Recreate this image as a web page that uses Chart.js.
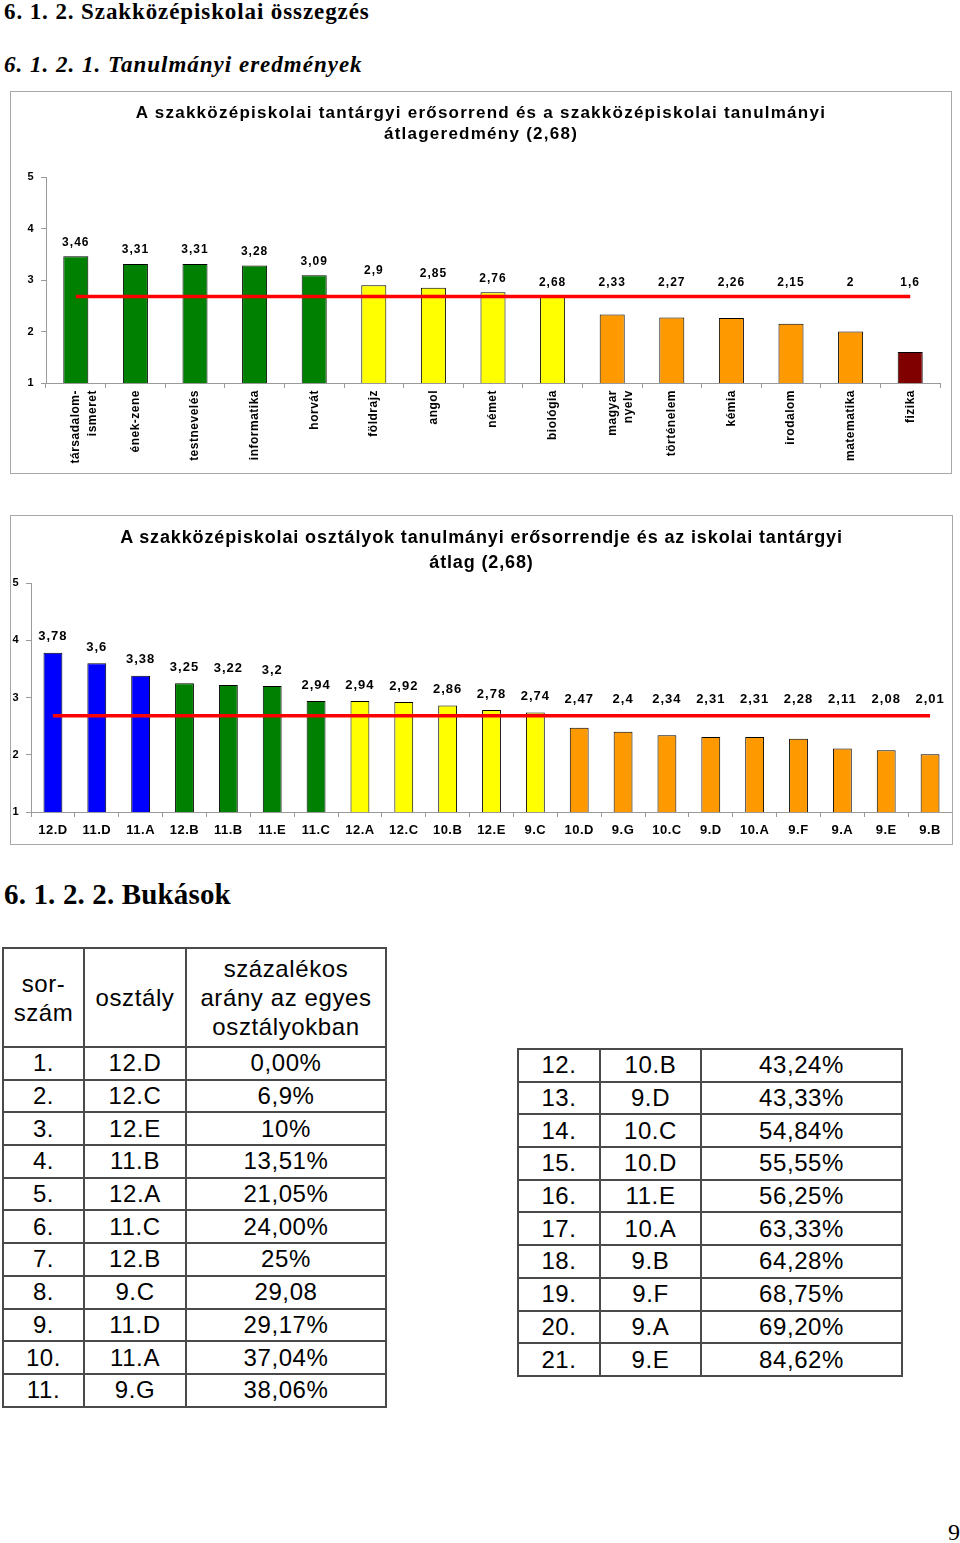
<!DOCTYPE html>
<html>
<head>
<meta charset="utf-8">
<script src="https://cdn.jsdelivr.net/npm/chart.js@4.4.1/dist/chart.umd.min.js"></script>
<style>
  body { margin: 0; width: 960px; height: 1543px; position: relative; background: #fff; overflow: hidden; }
  .head { position: absolute; left: 4px; margin: 0; font-family: "Liberation Serif", "Times New Roman", serif; font-weight: bold; line-height: 1; white-space: nowrap; color: #000; }
  #h1 { top: 0px; font-size: 23px; letter-spacing: 0.9px; }
  #h2 { top: 53px; font-size: 23px; font-style: italic; letter-spacing: 1px; }
  #h3 { top: 880px; font-size: 29px; letter-spacing: 0.15px; }
  .box { position: absolute; border: 1px solid #a8a8a8; }
  #box1 { left: 10px; top: 91px; width: 940px; height: 381px; }
  #box2 { left: 10px; top: 515px; width: 941px; height: 328px; }
  canvas { position: absolute; }
  #c1 { left: 11px; top: 92px; }
  #c2 { left: 11px; top: 516px; }
  .ctitle { position: absolute; left: 11px; text-align: center; font-family: "Liberation Sans", Arial, sans-serif; font-weight: bold; color: #000; white-space: nowrap; }
  #ct1 { top: 101.5px; width: 940px; font-size: 17px; line-height: 21px; letter-spacing: 1.25px; }
  #ct2 { top: 524.5px; width: 941px; font-size: 18px; line-height: 25px; letter-spacing: 0.87px; }
  table { position: absolute; border-collapse: collapse; table-layout: fixed; font-family: "Liberation Sans", Arial, sans-serif; font-size: 24px; letter-spacing: 0.6px; color: #000; }
  td { border: 2px solid #4a4a4a; text-align: center; padding: 0; line-height: 29px; }
  #t1 { left: 2px; top: 947px; width: 383px; }
  #t2 { left: 517px; top: 1048px; width: 384px; }
  #t1 tr.hd td { height: 97px; }
  tr.rw td { height: 30.7px; line-height: 28px; }
  #pg { position: absolute; left: 948px; top: 1519px; font-family: "Liberation Serif", serif; font-size: 24px; }
</style>
</head>
<body>
<div class="head" id="h1">6. 1. 2. Szakközépiskolai összegzés</div>
<div class="head" id="h2">6. 1. 2. 1. Tanulmányi eredmények</div>
<div class="box" id="box1"></div>
<canvas id="c1" width="940" height="381"></canvas>
<div class="ctitle" id="ct1">A szakközépiskolai tantárgyi erősorrend és a szakközépiskolai tanulmányi<br>átlageredmény (2,68)</div>
<div class="box" id="box2"></div>
<canvas id="c2" width="941" height="328"></canvas>
<div class="ctitle" id="ct2">A szakközépiskolai osztályok tanulmányi erősorrendje és az iskolai tantárgyi<br>átlag (2,68)</div>
<div class="head" id="h3">6. 1. 2. 2. Bukások</div>
<table id="t1"><colgroup><col style="width:81px"><col style="width:102px"><col style="width:200px"></colgroup><tbody></tbody></table>
<table id="t2"><colgroup><col style="width:82px"><col style="width:101px"><col style="width:201px"></colgroup><tbody></tbody></table>
<div id="pg">9</div>
<script>
// chart 1: subjects
const subjects = [['társadalom-', 'ismeret'], 'ének-zene', 'testnevelés', 'informatika', 'horvát', 'földrajz', 'angol', 'német', 'biológia', ['magyar', 'nyelv'], 'történelem', 'kémia', 'irodalom', 'matematika', 'fizika'];
const subjectAvg = [3.46, 3.31, 3.31, 3.28, 3.09, 2.9, 2.85, 2.76, 2.68, 2.33, 2.27, 2.26, 2.15, 2, 1.6];
const subjectColors = ['#008000', '#008000', '#008000', '#008000', '#008000', '#ffff00', '#ffff00', '#ffff00', '#ffff00', '#ff9900', '#ff9900', '#ff9900', '#ff9900', '#ff9900', '#800000'];
const schoolAvg = 2.68;

// chart 2: classes
const classes = ['12.D', '11.D', '11.A', '12.B', '11.B', '11.E', '11.C', '12.A', '12.C', '10.B', '12.E', '9.C', '10.D', '9.G', '10.C', '9.D', '10.A', '9.F', '9.A', '9.E', '9.B'];
const classAvg = [3.78, 3.6, 3.38, 3.25, 3.22, 3.2, 2.94, 2.94, 2.92, 2.86, 2.78, 2.74, 2.47, 2.4, 2.34, 2.31, 2.31, 2.28, 2.11, 2.08, 2.01];
const classColors = ['#0000ff', '#0000ff', '#0000ff', '#008000', '#008000', '#008000', '#008000', '#ffff00', '#ffff00', '#ffff00', '#ffff00', '#ffff00', '#ff9900', '#ff9900', '#ff9900', '#ff9900', '#ff9900', '#ff9900', '#ff9900', '#ff9900', '#ff9900'];

// failures table
const failRank = ['1.', '2.', '3.', '4.', '5.', '6.', '7.', '8.', '9.', '10.', '11.', '12.', '13.', '14.', '15.', '16.', '17.', '18.', '19.', '20.', '21.'];
const failClass = ['12.D', '12.C', '12.E', '11.B', '12.A', '11.C', '12.B', '9.C', '11.D', '11.A', '9.G', '10.B', '9.D', '10.C', '10.D', '11.E', '10.A', '9.B', '9.F', '9.A', '9.E'];
const failRate = ['0,00%', '6,9%', '10%', '13,51%', '21,05%', '24,00%', '25%', '29,08', '29,17%', '37,04%', '38,06%', '43,24%', '43,33%', '54,84%', '55,55%', '56,25%', '63,33%', '64,28%', '68,75%', '69,20%', '84,62%'];

const FONT = '"Liberation Sans", Arial, sans-serif';

// wider letters, like the original
const spacing = {
  id: 'spacing',
  beforeDraw(chart) { chart.ctx.letterSpacing = '0.5px'; }
};

// value labels over the bars, never below the average line
const valueLabels = {
  id: 'valueLabels',
  afterDatasetsDraw(chart, args, opts) {
    const ctx = chart.ctx;
    const meta = chart.getDatasetMeta(0);
    const avgPx = chart.scales.y.getPixelForValue(opts.avg);
    ctx.save();
    ctx.font = 'bold ' + opts.size + 'px ' + FONT;
    ctx.letterSpacing = '1px';
    ctx.fillStyle = '#000';
    ctx.textAlign = 'center';
    ctx.textBaseline = 'middle';
    meta.data.forEach((bar, i) => {
      const v = chart.data.datasets[0].data[i];
      ctx.fillText(String(v).replace('.', ','), bar.x, Math.min(bar.y, avgPx) - opts.offset);
    });
    ctx.restore();
  }
};

function makeChart(id, o) {
  return new Chart(document.getElementById(id), {
    type: 'bar',
    data: {
      labels: o.labels,
      datasets: [{
        data: o.values,
        backgroundColor: o.colors,
        borderColor: '#000',
        borderWidth: 1,
        barPercentage: o.barPct,
        categoryPercentage: 1,
        order: 1
      }, {
        type: 'line',
        data: o.labels.map(() => schoolAvg),
        borderColor: '#ff0000',
        borderWidth: 3.5,
        pointRadius: 0,
        order: 0
      }]
    },
    options: {
      responsive: false,
      animation: false,
      layout: { padding: { top: o.padTop, right: o.padRight } },
      plugins: {
        legend: { display: false },
        tooltip: { enabled: false },
        valueLabels: { avg: schoolAvg, size: o.labelSize, offset: o.labelOffset }
      },
      scales: {
        x: {
          ticks: {
            autoSkip: false,
            maxRotation: o.rot,
            minRotation: o.rot,
            color: '#000',
            padding: o.xPad,
            font: { family: FONT, weight: 'bold', size: o.xSize, lineHeight: o.xLine }
          },
          grid: { display: true, drawOnChartArea: false, tickLength: 5, color: '#9a9a9a', offset: true },
          border: { color: '#9a9a9a' },
          afterFit(s) { s.height = o.xHeight; }
        },
        y: {
          min: 1,
          max: 5,
          ticks: { stepSize: 1, color: '#000', padding: 7, font: { family: FONT, weight: 'bold', size: 11 } },
          grid: { display: true, drawOnChartArea: false, tickLength: 5, color: '#9a9a9a' },
          border: { color: '#9a9a9a' },
          afterFit(s) { s.width = o.yWidth; }
        }
      }
    },
    plugins: [spacing, valueLabels]
  });
}

makeChart('c1', {
  labels: subjects,
  values: subjectAvg,
  colors: subjectColors,
  padTop: 85,
  barPct: 0.42, padRight: 11, rot: 90, xSize: 12, xLine: 1.4, xPad: 2, xHeight: 90, yWidth: 35,
  labelSize: 12, labelOffset: 14
});

makeChart('c2', {
  labels: classes,
  values: classAvg,
  colors: classColors,
  padTop: 67,
  barPct: 0.43, padRight: 0, rot: 0, xSize: 13, xLine: 1.2, xPad: 6, xHeight: 32, yWidth: 20,
  labelSize: 13, labelOffset: 16
});

// tables
function cell(tr, text) {
  const td = document.createElement('td');
  td.innerHTML = text;
  tr.appendChild(td);
}
const b1 = document.querySelector('#t1 tbody');
const b2 = document.querySelector('#t2 tbody');
const hd = document.createElement('tr');
hd.className = 'hd';
cell(hd, 'sor-<br>szám');
cell(hd, 'osztály');
cell(hd, 'százalékos<br>arány az egyes<br>osztályokban');
b1.appendChild(hd);
failRank.forEach((r, i) => {
  const tr = document.createElement('tr');
  tr.className = 'rw';
  cell(tr, r);
  cell(tr, failClass[i]);
  cell(tr, failRate[i]);
  (i < 11 ? b1 : b2).appendChild(tr);
});
</script>
</body>
</html>
